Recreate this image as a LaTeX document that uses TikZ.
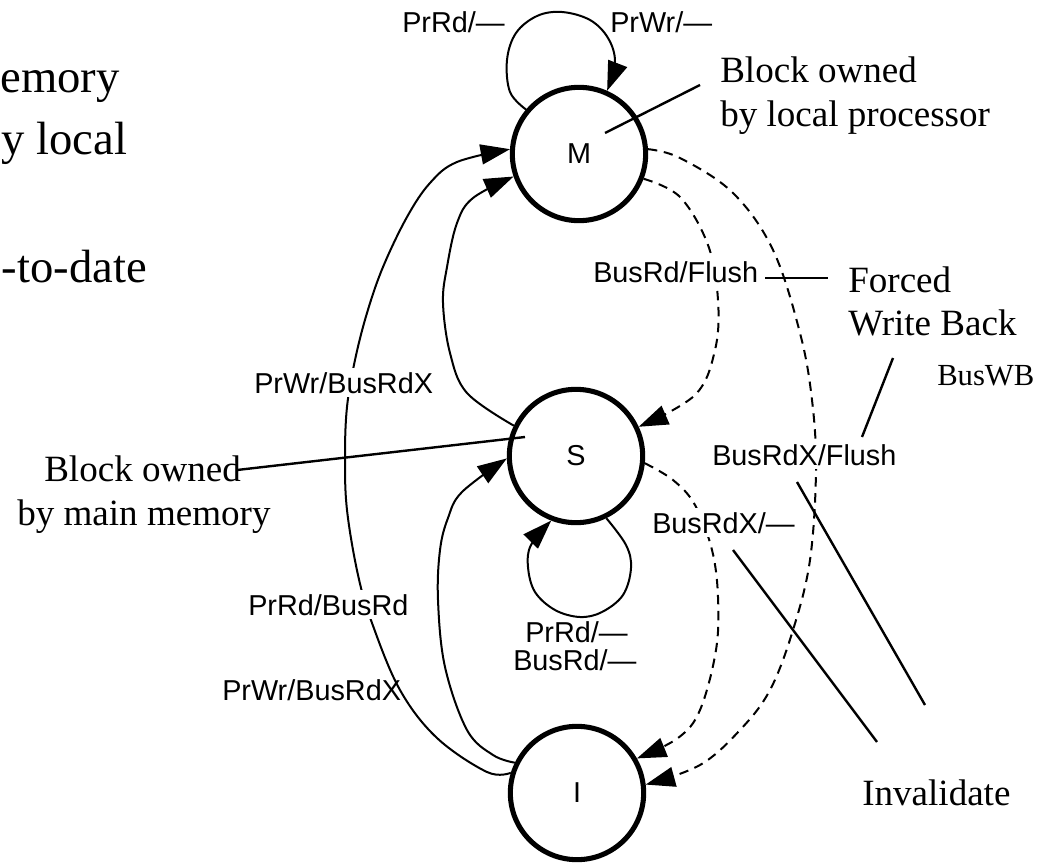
\documentclass[tikz,border=0pt]{standalone}
\usepackage{fontspec}
\setmainfont{Liberation Serif}
\setsansfont{Liberation Sans}
\usetikzlibrary{arrows.meta}
\begin{document}
\begin{tikzpicture}[x=0.75pt,y=-0.75pt,
  state/.style={circle,draw,line width=3.8pt,minimum size=100pt,inner sep=0pt,font=\sffamily\fontsize{21.6}{26}\selectfont},
  tr/.style={line width=1.5pt},
  trd/.style={line width=1.5pt,dash pattern=on 7pt off 5pt},
  arr/.style={-{Triangle[length=22pt,width=15pt]}},
  lab/.style={font=\sffamily\fontsize{21.6}{26}\selectfont,inner sep=0pt},
  labw/.style={font=\sffamily\fontsize{21.6}{26}\selectfont,fill=white,inner sep=3pt},
  ann/.style={font=\fontsize{27.8}{33}\selectfont,inner sep=0pt},
  annsm/.style={font=\fontsize{23}{28}\selectfont,inner sep=0pt},
  big/.style={font=\fontsize{35}{42}\selectfont,inner sep=0pt},
  aline/.style={line width=1.8pt}
]
\useasboundingbox (0,0) rectangle (1053,863);

% partial text at the left edge
\node[big,anchor=base east] (t1) at (120,93) {emory};
\node[big,anchor=base west] (t2) at (1,155) {y local};
\node[big,anchor=base east] (t3) at (147,282) {-to-date};

% states
\node[state] (M) at (579,154) {M};
\node[state] (S) at (576,456) {S};
\node[state] (I) at (577,793) {I};

% M self loop
\draw[tr,arr] plot[smooth,tension=0.6] coordinates {(M.140) (510,92) (507,60) (516,33) (537,16) (562,12) (590,20) (608,38) (615,62) (M.66)};

% I -> M (outer)
\draw[tr,arr] plot[smooth,tension=0.6] coordinates {(I.163) (487,772) (437,738) (400,690) (372,623) (358,575) (347,510) (345,457) (347,407) (355,360) (367,313) (383,267) (407,217) (430,183) (457,162) (M.176)};

% S -> M (inner)
\draw[tr,arr] plot[smooth,tension=0.6] coordinates {(S.154) (467,393) (450,353) (443,303) (447,267) (457,223) (473,198) (M.199)};

% I -> S
\draw[tr,arr] plot[smooth,tension=0.6] coordinates {(I.154) (493,755) (467,730) (445,667) (438,600) (440,550) (448,518) (462,492) (S.182)};

% S self loop
\draw[tr,arr] plot[smooth,tension=0.6] coordinates {(S.296) (626,545) (631,568) (623,595) (602,612) (580,617) (555,610) (535,592) (528,567) (531,545) (S.249)};

% M -> S dashed
\draw[trd,arr] plot[smooth,tension=0.6] coordinates {(M.339) (680,197) (708,245) (718,300) (715,350) (695,395) (S.25)};

% M -> I dashed
\draw[trd,arr] plot[smooth,tension=0.6] coordinates {(M.4) (680,158) (733,193) (773,250) (800,333) (812,400) (816,470) (810,560) (793,630) (770,690) (740,730) (700,765) (I.7)};

% S -> I dashed
\draw[trd,arr] plot[smooth,tension=0.6] coordinates {(S.-6) (673,480) (695,505) (712,550) (718,597) (716,650) (700,710) (678,738) (I.30)};

% transition labels
\node[lab,anchor=base west] (lprd) at (402,33) {PrRd/—};
\node[lab,anchor=base west] (lpwr) at (610,33) {PrWr/—};
\node[labw,anchor=base west] (lsm) at (250,393) {PrWr/BusRdX};
\node[labw,anchor=base west] (lis) at (244,615) {PrRd/BusRd};
\node[lab,anchor=base west] (lim) at (222,700) {PrWr/BusRdX};
\node[labw,anchor=base west] (lms) at (589,282) {BusRd/Flush};
\node[labw,anchor=base west] (lmi) at (708,465) {BusRdX/Flush};
\node[labw,anchor=base west] (lsi) at (648,533) {BusRdX/—};
\node[lab,anchor=base west] (ls1) at (525,642) {PrRd/—};
\node[lab,anchor=base west] (ls2) at (513,670) {BusRd/—};

% annotations
\node[ann,anchor=base west] (alp1) at (720,83) {Block owned};
\node[ann,anchor=base west] (alp2) at (720,127) {by local processor};
\node[ann,anchor=base west] (amm1) at (44,481) {Block owned};
\node[ann,anchor=base west] (amm2) at (17,525) {by main memory};
\node[ann,anchor=base west] (afw1) at (848,292) {Forced};
\node[ann,anchor=base west] (afw2) at (848,335) {Write Back};
\node[annsm,anchor=base west] (awb) at (937,385) {BusWB};
\node[ann,anchor=base west] (ainv) at (862,805) {Invalidate};

% annotation pointer lines
\coordinate (p1a) at (700,85);  \coordinate (p1b) at (605,133);
\coordinate (p2a) at (237,470); \coordinate (p2b) at (525,437);
\coordinate (p3a) at (765,278); \coordinate (p3b) at (828,278);
\coordinate (p4a) at (893,358); \coordinate (p4b) at (862,437);
\coordinate (p5a) at (797,482); \coordinate (p5b) at (925,705);
\coordinate (p6a) at (733,550); \coordinate (p6b) at (877,742);
\draw[aline] (p1a) -- (p1b);
\draw[aline] (p2a) -- (p2b);
\draw[aline] (p3a) -- (p3b);
\draw[aline] (p4a) -- (p4b);
\draw[aline] (p5a) -- (p5b);
\draw[aline] (p6a) -- (p6b);
\end{tikzpicture}
\end{document}
